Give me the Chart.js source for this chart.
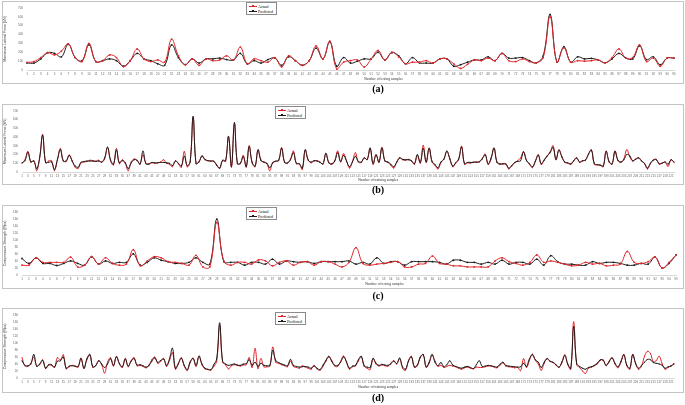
<!DOCTYPE html>
<html>
<head>
<meta charset="utf-8">
<script src="https://cdn.jsdelivr.net/npm/chart.js@4.4.0/dist/chart.umd.min.js"></script>
<style>
  html, body { margin: 0; padding: 0; background: #fff; }
  body { width: 685px; height: 405px; position: relative; overflow: hidden; }
  .panel { position: absolute; border: 1px solid #c4c4c4; box-sizing: border-box; }
  .panel canvas { position: absolute; left: 0; top: 0; }
  .legend { position: absolute; border: 1px solid #8a8a8a; background: #fff; font: 4px "Liberation Serif", serif; color: #000; padding: 1px 2px; box-sizing: border-box; }
  .legend .row { display: flex; align-items: center; height: 5px; white-space: nowrap; }
  .legend .swatch { position: relative; width: 8px; height: 1px; margin-right: 1px; }
  .legend .swatch::after { content: ""; position: absolute; left: 3px; top: -1px; width: 2px; height: 2px; background: inherit; }
  .caption { position: absolute; font: bold 10px "Liberation Serif", serif; transform: translateX(-50%); }
  .xtitle { position: absolute; font: 3.6px "Liberation Serif", serif; color: #333; white-space: nowrap; }
</style>
</head>
<body>

<div class="panel" style="left:2px;top:1px;width:682px;height:83px"><canvas id="ca" width="680" height="81"></canvas></div>
<div class="legend" style="left:246px;top:2px;width:31px;height:13px">
  <div class="row"><span class="swatch" style="background:#e0262b"></span>Actual</div>
  <div class="row"><span class="swatch" style="background:#1c1c1c"></span>Predicted</div>
</div>
<div class="xtitle" style="left:364px;top:77px">Number of testing samples</div>
<div class="caption" style="left:378px;top:83px">(a)</div>

<div class="panel" style="left:2px;top:104px;width:682px;height:81px"><canvas id="cb" width="680" height="79"></canvas></div>
<div class="legend" style="left:275px;top:106px;width:31px;height:13px">
  <div class="row"><span class="swatch" style="background:#e0262b"></span>Actual</div>
  <div class="row"><span class="swatch" style="background:#1c1c1c"></span>Predicted</div>
</div>
<div class="xtitle" style="left:358px;top:178px">Number of training samples</div>
<div class="caption" style="left:378px;top:184px">(b)</div>

<div class="panel" style="left:2px;top:205px;width:682px;height:84px"><canvas id="cc" width="680" height="82"></canvas></div>
<div class="legend" style="left:246px;top:207px;width:31px;height:13px">
  <div class="row"><span class="swatch" style="background:#e0262b"></span>Actual</div>
  <div class="row"><span class="swatch" style="background:#1c1c1c"></span>Predicted</div>
</div>
<div class="xtitle" style="left:365px;top:282px">Number of testing samples</div>
<div class="caption" style="left:378px;top:290px">(c)</div>

<div class="panel" style="left:2px;top:308px;width:682px;height:85px"><canvas id="cd" width="680" height="83"></canvas></div>
<div class="legend" style="left:275px;top:312px;width:31px;height:13px">
  <div class="row"><span class="swatch" style="background:#e0262b"></span>Actual</div>
  <div class="row"><span class="swatch" style="background:#1c1c1c"></span>Predicted</div>
</div>
<div class="xtitle" style="left:358px;top:385px">Number of training samples</div>
<div class="caption" style="left:378px;top:392px">(d)</div>

<script>
// ── Data ─────────────────────────────────────────────────────────────────────

const testLabels  = Array.from({ length: 95 },  (_, i) => String(i + 1));
const trainLabels = Array.from({ length: 222 }, (_, i) => String(i + 1));

// (a) lateral force, testing set (kN)
const forceTestActual = [
  85, 95, 140, 195, 170, 212, 295, 140, 95, 300,
  95, 105, 170, 140, 38, 105, 237, 125, 95, 113,
  88, 346, 160, 60, 125, 53, 125, 105, 113, 160,
  113, 258, 70, 125, 105, 88, 140, 35, 160, 105,
  53, 105, 272, 125, 325, 10, 88, 105, 113, 35,
  125, 220, 113, 200, 148, 70, 88, 88, 105, 78,
  125, 125, 70, 18, 64, 113, 105, 134, 105, 187,
  105, 95, 125, 95, 81, 140, 600, 88, 250, 88,
  105, 99, 105, 113, 81, 140, 237, 134, 140, 283,
  95, 134, 42, 134, 134
];
const forceTestPred = [
  80, 78, 125, 195, 187, 148, 290, 140, 105, 285,
  95, 105, 125, 105, 42, 105, 187, 125, 105, 70,
  53, 283, 140, 60, 125, 78, 125, 125, 134, 117,
  113, 187, 70, 105, 78, 117, 134, 53, 148, 105,
  53, 105, 247, 125, 318, 42, 140, 78, 99, 125,
  125, 200, 113, 195, 160, 70, 140, 81, 78, 78,
  125, 125, 42, 60, 88, 113, 113, 148, 105, 187,
  134, 134, 140, 105, 81, 160, 625, 88, 262, 88,
  148, 125, 131, 113, 81, 125, 187, 134, 125, 272,
  117, 148, 60, 134, 134
];

// (b) lateral force, training set (kN)
const forceTrainActual = [
  100, 140, 235, 110, 130, 15, 170, 430, 105, 125,
  130, 15, 140, 270, 130, 120, 195, 130, 55, 40,
  105, 115, 120, 135, 130, 125, 135, 110, 150, 280,
  130, 80, 270, 95, 140, 100, 15, 110, 150, 130,
  95, 195, 100, 95, 105, 100, 105, 115, 140, 100,
  90, 60, 130, 95, 55, 235, 60, 120, 625, 100,
  120, 180, 140, 130, 125, 120, 75, 40, 130, 120,
  410, 55, 555, 100, 95, 190, 55, 300, 105, 60,
  250, 140, 110, 95, 15, 110, 120, 130, 280, 115,
  100, 150, 240, 95, 90, 30, 250, 140, 105, 125,
  130, 115, 90, 205, 110, 85, 130, 240, 115, 210,
  130, 45, 120, 220, 115, 110, 165, 140, 270, 90,
  200, 110, 280, 130, 110, 80, 45, 115, 165, 140,
  135, 145, 125, 90, 190, 100, 305, 110, 275, 115,
  75, 35, 110, 150, 235, 150, 60, 100, 140, 295,
  90, 105, 100, 115, 110, 120, 155, 205, 85, 150,
  270, 115, 95, 90, 85, 35, 75, 105, 130, 160,
  235, 135, 90, 50, 120, 200, 85, 140, 180, 230,
  300, 140, 255, 170, 110, 100, 85, 130, 165, 110,
  125, 140, 200, 255, 90, 80, 75, 60, 240, 115,
  90, 240, 130, 110, 150, 255, 175, 125, 150, 165,
  130, 95, 35, 95, 140, 145, 90, 105, 110, 65, 140, 110
];
const forceTrainPred = [
  105, 130, 225, 120, 125, 40, 165, 420, 110, 110,
  115, 30, 140, 255, 125, 130, 190, 125, 70, 55,
  110, 120, 125, 125, 125, 120, 125, 115, 160, 285,
  140, 90, 250, 105, 130, 105, 40, 105, 140, 135,
  90, 240, 95, 90, 110, 105, 105, 110, 110, 105,
  100, 75, 125, 100, 70, 180, 75, 115, 635, 95,
  115, 185, 145, 130, 125, 125, 80, 45, 135, 130,
  405, 65, 565, 95, 100, 175, 65, 290, 110, 70,
  255, 130, 115, 100, 50, 105, 125, 135, 270, 110,
  105, 140, 220, 100, 95, 45, 255, 135, 115, 130,
  125, 110, 95, 215, 105, 95, 125, 220, 120, 190,
  125, 60, 115, 180, 120, 115, 160, 145, 275, 95,
  195, 115, 275, 125, 115, 90, 60, 110, 160, 145,
  140, 140, 130, 95, 200, 110, 270, 115, 270, 120,
  85, 50, 115, 145, 240, 155, 70, 105, 150, 285,
  95, 110, 110, 110, 115, 115, 150, 195, 95, 160,
  275, 110, 90, 95, 95, 45, 70, 110, 120, 130,
  230, 130, 95, 60, 125, 190, 95, 135, 185, 220,
  280, 145, 250, 175, 115, 105, 95, 125, 160, 115,
  130, 135, 205, 250, 95, 85, 80, 70, 235, 120,
  95, 235, 135, 115, 140, 200, 185, 130, 145, 160,
  125, 100, 45, 100, 135, 140, 95, 100, 115, 90, 140, 115
];

// (c) compressive strength, testing set (MPa)
const strengthTestActual = [
  28, 28, 49, 36, 36, 36, 36, 51, 23, 28,
  52, 31, 49, 33, 28, 31, 72, 26, 40, 52,
  49, 38, 36, 33, 28, 56, 23, 23, 150, 40,
  28, 36, 36, 31, 43, 40, 26, 36, 40, 28,
  36, 38, 28, 38, 38, 31, 23, 36, 78, 33,
  28, 31, 33, 36, 38, 23, 23, 31, 33, 54,
  33, 31, 26, 26, 23, 23, 23, 23, 40, 49,
  38, 33, 28, 36, 57, 36, 40, 36, 31, 26,
  28, 36, 31, 33, 26, 28, 31, 67, 36, 33,
  38, 51, 20, 36, 57
];
const strengthTestPred = [
  47, 33, 49, 33, 33, 27, 33, 40, 33, 28,
  52, 31, 40, 33, 36, 36, 60, 28, 36, 49,
  42, 38, 33, 33, 36, 49, 36, 31, 159, 38,
  36, 36, 28, 36, 36, 31, 45, 31, 40, 38,
  36, 38, 33, 38, 38, 38, 38, 40, 31, 36,
  31, 49, 33, 38, 38, 28, 38, 38, 38, 38,
  36, 31, 42, 42, 36, 36, 31, 36, 31, 42,
  31, 36, 36, 31, 45, 28, 55, 38, 31, 31,
  28, 28, 38, 33, 36, 36, 33, 28, 28, 33,
  31, 51, 20, 33, 57
];

// (d) compressive strength, training set (MPa)
const strengthTrainActual = [
  58, 35, 33, 42, 60, 35, 38, 52, 27, 36,
  36, 30, 58, 52, 66, 26, 32, 36, 33, 31,
  57, 27, 52, 65, 30, 36, 48, 38, 14, 45,
  58, 34, 62, 40, 30, 56, 32, 50, 58, 35,
  36, 33, 29, 36, 52, 60, 42, 47, 56, 33,
  50, 72, 25, 40, 58, 34, 21, 44, 57, 33,
  60, 38, 26, 24, 22, 33, 48, 150, 45, 38,
  26, 35, 38, 36, 34, 37, 38, 58, 30, 84,
  27, 55, 32, 32, 34, 88, 45, 42, 38, 35,
  32, 48, 33, 30, 28, 35, 31, 28, 25, 36,
  26, 22, 33, 48, 60, 50, 34, 33, 48, 63,
  44, 25, 32, 34, 48, 60, 33, 28, 24, 55,
  40, 34, 37, 35, 33, 42, 50, 40, 55, 28,
  22, 50, 62, 30, 35, 58, 66, 30, 42, 65,
  48, 33, 36, 30, 33, 36, 34, 32, 28, 25,
  29, 31, 28, 26, 31, 30, 30, 32, 34, 35,
  31, 29, 36, 43, 34, 32, 31, 29, 30, 21,
  55, 30, 50, 68, 50, 40, 22, 42, 56, 47,
  44, 37, 30, 46, 66, 38, 25, 160, 38, 30,
  20, 13, 28, 31, 35, 40, 50, 52, 35, 48,
  58, 40, 29, 45, 67, 35, 25, 66, 40, 25,
  34, 62, 76, 70, 46, 50, 62, 40, 25, 30, 35, 42
];
const strengthTrainPred = [
  49, 36, 35, 40, 67, 33, 40, 50, 28, 38,
  38, 31, 48, 49, 60, 28, 34, 35, 34, 33,
  55, 28, 55, 67, 32, 35, 50, 40, 30, 40,
  55, 36, 60, 42, 32, 54, 34, 48, 55, 37,
  38, 35, 31, 35, 48, 57, 45, 50, 54, 36,
  55, 85, 28, 42, 56, 36, 24, 46, 55, 36,
  63, 40, 28, 25, 24, 38, 55, 157, 48, 40,
  36, 38, 40, 37, 36, 40, 41, 52, 36, 45,
  33, 42, 36, 35, 36, 78, 50, 44, 40, 37,
  35, 53, 36, 33, 31, 32, 33, 31, 28, 34,
  28, 24, 36, 50, 62, 47, 36, 36, 45, 60,
  46, 28, 34, 36, 52, 62, 35, 31, 30, 56,
  42, 36, 39, 37, 36, 40, 48, 41, 57, 32,
  25, 48, 60, 32, 37, 60, 67, 32, 45, 67,
  45, 35, 44, 32, 38, 49, 37, 33, 30, 28,
  31, 33, 30, 27, 38, 49, 33, 34, 36, 34,
  33, 31, 39, 45, 36, 34, 33, 32, 31, 32,
  42, 33, 55, 66, 52, 45, 30, 45, 55, 48,
  45, 38, 31, 44, 64, 40, 28, 147, 42, 33,
  28, 25, 30, 32, 36, 42, 52, 50, 36, 46,
  57, 42, 32, 47, 66, 37, 28, 67, 42, 28,
  36, 45, 53, 52, 44, 42, 40, 36, 28, 32, 34, 40
];

// ── Chart setup ──────────────────────────────────────────────────────────────

const RED = "#e0262b";
const BLACK = "#1c1c1c";
const tickFont = { family: "Liberation Sans", size: 3 };

function mkPanel(id, labels, actual, predicted, o) {
  const series = (data, color, order) => ({
    data, borderColor: color, backgroundColor: color, borderWidth: 1,
    pointRadius: o.dot, pointBorderWidth: 0, tension: 0.4, order
  });

  new Chart(document.getElementById(id), {
    type: "line",
    data: {
      labels,
      datasets: [
        series(actual, RED, o.redTop ? 0 : 1),
        series(predicted, BLACK, o.redTop ? 1 : 0)
      ]
    },
    options: {
      responsive: false,
      animation: false,
      events: [],
      layout: { padding: { left: 0, right: o.pr, top: o.pt, bottom: 0 } },
      plugins: { legend: { display: false }, tooltip: { enabled: false } },
      scales: {
        x: {
          offset: false,
          grid: { display: false, drawTicks: false },
          border: { display: true, color: "#d8d8d8", width: 1 },
          ticks: {
            autoSkip: false, maxRotation: 0, minRotation: 0, padding: 2,
            color: "#666", font: tickFont,
            callback: (v, i) => (i % o.every === 0 ? labels[i] : "")
          },
          afterFit: s => { s.height = o.xh; }
        },
        y: {
          min: 0, max: o.ymax,
          grid: { display: false, drawTicks: false },
          border: { display: false },
          ticks: { stepSize: o.step, padding: 4, color: "#666", font: tickFont },
          title: {
            display: true, text: o.ytitle, color: "#333",
            font: { family: "Liberation Sans", size: 3.6 },
            padding: { top: 0, bottom: 0 }
          },
          afterFit: s => { s.width = o.yw; }
        }
      }
    }
  });
}

mkPanel("ca", testLabels, forceTestActual, forceTestPred,
  { ymax: 700, step: 100, ytitle: "Maximum Lateral Force (kN)", yw: 24, xh: 13, pr: 9, pt: 2, every: 1, dot: 0.9, redTop: true });
mkPanel("cb", trainLabels, forceTrainActual, forceTrainPred,
  { ymax: 700, step: 100, ytitle: "Maximum Lateral Force (kN)", yw: 19, xh: 12, pr: 9, pt: 2, every: 2, dot: 0.5, redTop: false });
mkPanel("cc", testLabels, strengthTestActual, strengthTestPred,
  { ymax: 180, step: 20, ytitle: "Compressive Strength (Mpa)", yw: 19, xh: 13, pr: 7, pt: 3, every: 1, dot: 0.9, redTop: true });
mkPanel("cd", trainLabels, strengthTrainActual, strengthTrainPred,
  { ymax: 180, step: 20, ytitle: "Compressive Strength (Mpa)", yw: 19, xh: 14, pr: 9, pt: 3, every: 2, dot: 0.5, redTop: false });
</script>
</body>
</html>
